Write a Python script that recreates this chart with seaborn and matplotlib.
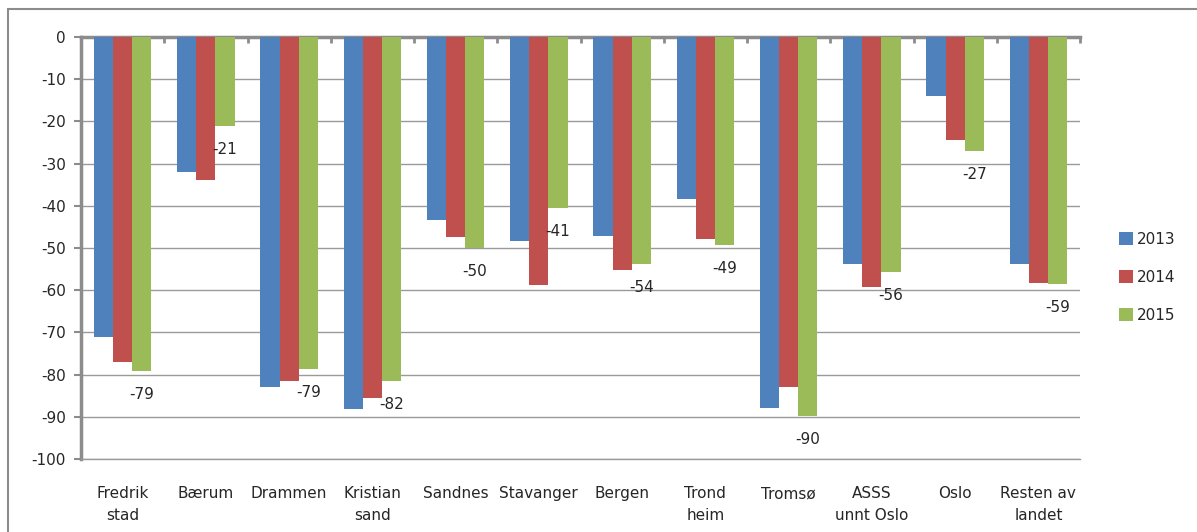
import pandas as pd
import matplotlib.pyplot as plt
import seaborn as sns
from matplotlib.patches import Rectangle

# Data
places = ["Fredrik\nstad", "Bærum", "Drammen", "Kristian\nsand", "Sandnes", "Stavanger",
          "Bergen", "Trond\nheim", "Tromsø", "ASSS\nunnt Oslo", "Oslo", "Resten av\nlandet"]
v2013 = [-71.0, -32.0, -82.9, -88.2, -43.4, -48.4, -47.1, -38.5, -87.9, -53.8, -13.9, -53.8]
v2014 = [-76.9, -33.8, -81.5, -85.5, -47.5, -58.8, -55.3, -47.9, -82.9, -59.3, -24.3, -58.3]
v2015 = [-79.2, -21.1, -78.7, -81.5, -50.0, -40.6, -53.8, -49.2, -89.8, -55.6, -27.0, -58.6]
years = ["2013", "2014", "2015"]
colors = ["#4F81BD", "#C0504D", "#9BBB59"]

df = pd.DataFrame({
    "place": places * 3,
    "year": [y for y in years for _ in places],
    "value": v2013 + v2014 + v2015,
})

sns.set_style("white")
plt.rcParams["font.family"] = ["DejaVu Sans"]
plt.rcParams["axes.unicode_minus"] = False

fig = plt.figure(figsize=(11.97, 5.32), dpi=100)
ax = fig.add_axes([81 / 1197, 1 - 459 / 532, (1080 - 81) / 1197, (459 - 37) / 532])

sns.barplot(data=df, x="place", y="value", hue="year", palette=colors,
            width=0.69, gap=0, saturation=1, linewidth=0, ax=ax, legend=True, zorder=3)

ax.set_ylim(-100, 0)
ax.set_xlim(-0.5, len(places) - 0.5)
ax.set_yticks(range(-100, 1, 10))
ax.yaxis.grid(True, color="#9a9a9a", linewidth=1.0, zorder=0)
ax.set_axisbelow(True)
ax.set_xlabel("")
ax.set_ylabel("")

ax.spines["right"].set_visible(False)
ax.spines["bottom"].set_color("#9a9a9a")
ax.spines["bottom"].set_linewidth(1.0)
for s in ["top", "left"]:
    ax.spines[s].set_color("#8c8c8c")
    ax.spines[s].set_linewidth(2.5)

ax.tick_params(axis="y", left=True, length=5, width=1.5, color="#8c8c8c",
               labelsize=11, pad=6)
ax.tick_params(axis="x", bottom=False, labelsize=11, pad=16)
ax.set_xticks(range(len(places)))
ax.set_xticklabels(places, linespacing=1.6)
ax.set_xticks([i + 0.5 for i in range(len(places))], minor=True)
ax.tick_params(axis="x", which="minor", top=True, bottom=False, direction="in",
               length=4, width=2, color="#8c8c8c")

# data labels on the 2015 series
for i, v in enumerate(v2015):
    ax.annotate(f"{v:.0f}", (i + 0.23, v), xytext=(0, -17), textcoords="offset points",
                ha="center", va="center", fontsize=11)

leg = ax.legend(loc="center left", bbox_to_anchor=(1.025, 0.43), frameon=False,
                fontsize=11, handlelength=0.95, handleheight=0.95, handletextpad=0.25,
                labelspacing=1.5)

fig.patches.append(Rectangle((8 / 1197, -0.1), 1.2, 1 - 9 / 532 + 0.1, transform=fig.transFigure,
                             fill=False, edgecolor="#8c8c8c", linewidth=1.5))

fig.savefig("out.png", dpi=100)
